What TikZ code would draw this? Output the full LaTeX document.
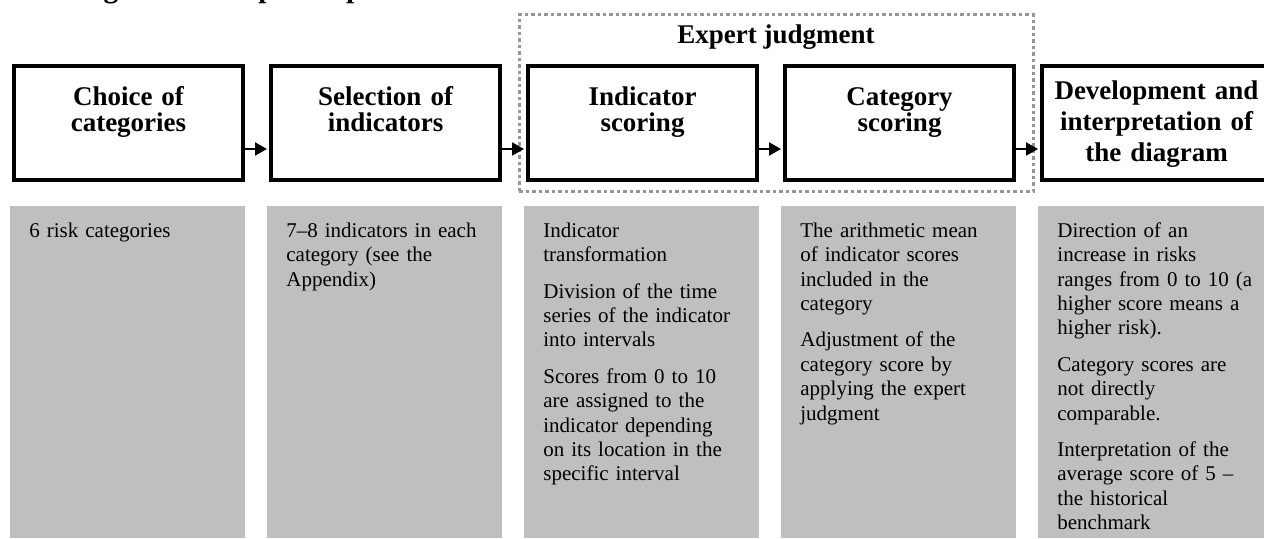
\documentclass[tikz,border=0pt]{standalone}
\usepackage{fontspec}
\setmainfont{Liberation Serif}
\usetikzlibrary{arrows.meta}
\definecolor{notegray}{RGB}{191,191,191}
\definecolor{framegray}{RGB}{150,150,150}
\tikzset{
	stagebox/.style={draw=black, line width=2pt, inner sep=0pt, anchor=north west,
		text width=114.5pt, align=center, text height=20pt, text depth=37pt,
		font=\fontsize{13.5}{12.75}\selectfont\bfseries},
	tallstage/.style={stagebox, text height=17pt, text depth=40pt,
		font=\fontsize{13.5}{15.5}\selectfont\bfseries},
	notebox/.style={fill=notegray, inner xsep=9.5pt, inner ysep=0pt, anchor=north west,
		text width=98.5pt, align=left, text height=15.5pt, text depth=150.5pt,
		font=\fontsize{10.5}{12.2}\selectfont},
	flow/.style={line width=1pt, -{Triangle[length=6pt,width=6.5pt]}, shorten >=1pt},
	expertframe/.style={draw=framegray, line width=1.5pt, dash pattern=on 1.75pt off 1.5pt,
		inner sep=0pt, anchor=north west, minimum width=257pt, minimum height=88.5pt}
}

\begin{document}
\begin{tikzpicture}[x=0.5pt, y=-0.5pt]
			%%%%% START %%%%%
			\useasboundingbox (0, 0) rectangle (1264, 539);
			
			\node[font=\fontsize{14.75}{17}\selectfont\bfseries, anchor=base west, inner sep=0pt] (title) at (-1, -2) {Risk diagram development process};
			
			\node[expertframe] (expert) at (517.5, 13.5) {};
			\node[font=\fontsize{13.5}{15.75}\selectfont\bfseries, anchor=base] (expertlabel) at ([yshift=-15.25pt]expert.north) {Expert judgment};
			
			\node[stagebox] (choice) at (12, 64) {Choice of\\categories};
			\node[stagebox] (selection) at (269, 64) {Selection of\\indicators};
			\node[stagebox] (indscore) at (526, 64) {Indicator\\scoring};
			\node[stagebox] (catscore) at (783, 64) {Category\\scoring};
			\node[tallstage] (develop) at (1040, 64) {Development and\\interpretation of\\the diagram};
			
			\foreach \a/\b in {choice/selection, selection/indscore, indscore/catscore, catscore/develop}
				\draw[flow] ([yshift=-13pt]\a.east) -- ([yshift=-13pt]\b.west);
			
			\node[notebox] (choicenote) at (10, 206) {6 risk categories};
			\node[notebox] (selectionnote) at (267, 206) {7--8 indicators in each\\category (see the\\Appendix)};
			\node[notebox] (indscorenote) at (524, 206) {Indicator\\transformation\\[6pt]Division of the time\\series of the indicator\\into intervals\\[6pt]Scores from 0 to 10\\are assigned to the\\indicator depending\\on its location in the\\specific interval};
			\node[notebox] (catscorenote) at (781, 206) {The arithmetic mean\\of indicator scores\\included in the\\category\\[6pt]Adjustment of the\\category score by\\applying the expert\\judgment};
			\node[notebox] (developnote) at (1038, 206) {Direction of an\\increase in risks\\ranges from 0 to 10 (a\\higher score means a\\higher risk).\\[6pt]Category scores are\\not directly\\comparable.\\[6pt]Interpretation of the\\average score of 5 --\\the historical\\benchmark};
			
			%%%%% END %%%%%
\end{tikzpicture}
\end{document}
